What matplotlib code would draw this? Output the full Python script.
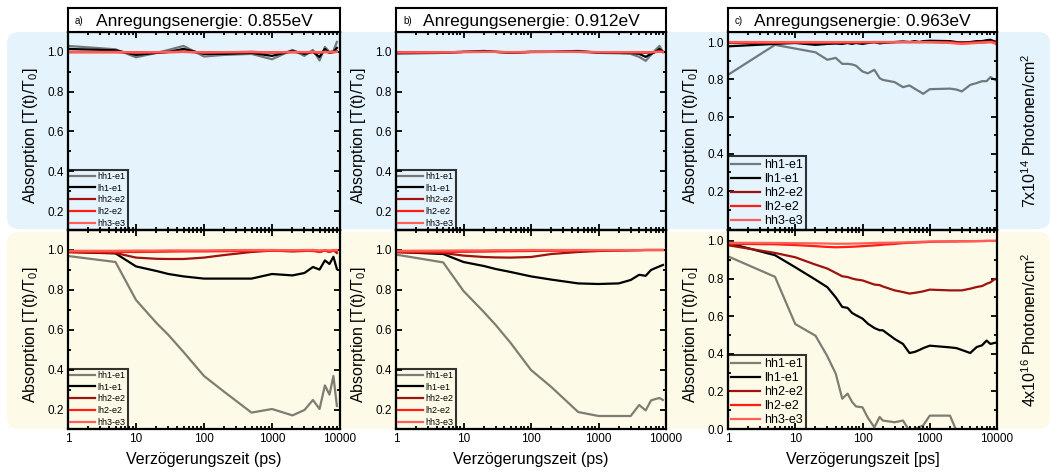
import numpy as np
import matplotlib.pyplot as plt
from matplotlib.patches import FancyBboxPatch
from matplotlib.transforms import IdentityTransform
from matplotlib.ticker import LogLocator, NullFormatter, MultipleLocator, FixedLocator

plt.rcParams['font.family'] = ['Liberation Sans', 'DejaVu Sans']
plt.rcParams['mathtext.default'] = 'regular'

W, H = 1051, 476

labels = ['hh1-e1', 'lh1-e1', 'hh2-e2', 'lh2-e2', 'hh3-e3']
titles = ['Anregungsenergie: 0.855eV', 'Anregungsenergie: 0.912eV', 'Anregungsenergie: 0.963eV']
letters = ['a)', 'b)', 'c)']
xlabels = ['Verzögerungszeit (ps)', 'Verzögerungszeit (ps)', 'Verzögerungszeit [ps]']
right_labels = ['7x10$^{14}$ Photonen/cm$^2$', '4x10$^{16}$ Photonen/cm$^2$']

# time grid (ps) for panels a and b
t_ab = [1, 5, 10, 20, 30, 50, 100, 200, 500, 1000, 2000, 3000, 4000, 5000, 6000, 7000, 8000, 9000]
# denser grid for panel c
t_c = [1, 5, 10, 20, 30, 40, 50, 60, 70, 80, 100, 120, 150, 180, 200, 300, 400, 500, 600,
       700, 800, 1000, 2000, 2500, 3000, 4000, 5000, 6000, 7000, 8000, 9000, 10000]

# ---- panel a, 7e14 ----
a_lo_hh1 = [1.03, 1.013, 0.973, 0.995, 1.01, 1.03, 0.977, 0.985, 0.99, 0.963, 1.01, 0.98, 1.01, 0.957, 1.025, 1.0, 1.005, 1.05]
a_lo_lh1 = [1.015, 1.008, 0.985, 0.995, 1.0, 1.015, 0.99, 0.99, 0.995, 0.98, 1.005, 0.99, 1.0, 0.975, 1.015, 0.995, 1.0, 1.02]
a_lo_hh2 = [1.0, 1.0, 0.997, 0.998, 1.0, 1.002, 0.997, 0.998, 1.0, 0.997, 1.0, 0.998, 1.0, 0.995, 1.002, 0.998, 1.0, 1.003]
a_lo_lh2 = [0.998, 0.998, 0.997, 0.998, 0.998, 1.0, 0.997, 0.998, 0.998, 0.997, 0.998, 0.998, 0.998, 0.996, 0.999, 0.998, 0.998, 1.0]
a_lo_hh3 = [1.0, 1.0, 0.998, 0.999, 1.0, 1.0, 0.998, 0.999, 1.0, 0.998, 1.0, 0.999, 1.0, 0.998, 1.0, 0.999, 1.0, 1.0]
# ---- panel a, 4e16 ----
a_hi_hh1 = [0.97, 0.94, 0.75, 0.635, 0.575, 0.49, 0.37, 0.29, 0.187, 0.205, 0.173, 0.20, 0.25, 0.205, 0.323, 0.277, 0.37, 0.22]
a_hi_lh1 = [0.99, 0.983, 0.918, 0.895, 0.88, 0.868, 0.857, 0.857, 0.857, 0.88, 0.873, 0.885, 0.915, 0.902, 0.948, 0.93, 0.966, 0.905]
a_hi_hh2 = [0.99, 0.985, 0.962, 0.956, 0.955, 0.955, 0.962, 0.975, 0.99, 0.997, 0.993, 0.995, 1.0, 0.99, 0.998, 0.99, 1.0, 0.985]
a_hi_lh2 = [0.99, 0.99, 0.99, 0.991, 0.992, 0.993, 0.993, 0.994, 0.995, 0.996, 0.995, 0.996, 0.995, 0.99, 0.998, 0.99, 0.997, 0.995]
a_hi_hh3 = [0.996, 0.996, 0.997, 0.997, 0.998, 0.998, 0.998, 0.999, 1.0, 1.0, 0.999, 1.0, 1.0, 0.998, 1.0, 0.998, 1.0, 1.0]

# ---- panel b, 7e14 ----
b_lo_hh1 = [0.99, 0.995, 1.0, 1.005, 1.0, 0.995, 1.0, 1.0, 1.005, 0.995, 0.993, 0.99, 0.975, 0.955, 0.985, 1.01, 1.03, 1.0]
b_lo_lh1 = [0.995, 0.997, 1.0, 1.003, 1.0, 0.997, 1.0, 1.0, 1.003, 0.997, 0.996, 0.995, 0.99, 0.975, 0.99, 1.0, 1.015, 1.0]
b_lo_hh2 = [0.996, 0.998, 1.0, 1.0, 1.0, 0.998, 1.0, 1.0, 1.0, 0.998, 0.998, 0.998, 0.997, 0.995, 0.997, 1.0, 1.005, 1.0]
b_lo_lh2 = [0.997, 0.998, 0.999, 1.0, 1.0, 0.998, 0.999, 1.0, 1.0, 0.999, 0.998, 0.998, 0.998, 0.997, 0.998, 1.0, 1.002, 1.0]
b_lo_hh3 = [0.998, 0.998, 1.0, 1.0, 1.0, 0.999, 1.0, 1.0, 1.0, 0.999, 0.999, 0.999, 0.999, 0.998, 0.999, 1.0, 1.0, 1.0]
# ---- panel b, 4e16 ----
b_hi_hh1 = [0.977, 0.938, 0.795, 0.69, 0.625, 0.535, 0.40, 0.315, 0.19, 0.17, 0.17, 0.17, 0.225, 0.198, 0.248, 0.255, 0.26, 0.25]
b_hi_lh1 = [0.99, 0.98, 0.94, 0.92, 0.905, 0.89, 0.868, 0.852, 0.833, 0.83, 0.833, 0.85, 0.876, 0.871, 0.90, 0.91, 0.918, 0.925]
b_hi_hh2 = [0.99, 0.985, 0.972, 0.965, 0.963, 0.962, 0.965, 0.98, 0.99, 0.995, 0.997, 0.998, 0.999, 1.0, 1.0, 1.0, 1.0, 1.0]
b_hi_lh2 = [0.99, 0.99, 0.991, 0.992, 0.993, 0.994, 0.995, 0.996, 0.997, 0.998, 0.998, 0.999, 0.999, 1.0, 1.0, 1.0, 1.0, 1.0]
b_hi_hh3 = [0.996, 0.997, 0.998, 0.998, 0.999, 0.999, 1.0, 1.0, 1.0, 1.0, 1.0, 1.0, 1.0, 1.0, 1.0, 1.0, 1.0, 1.0]

# ---- panel c, 7e14 ----
c_lo_hh1 = [0.824, 0.985, 0.965, 0.945, 0.905, 0.915, 0.883, 0.883, 0.88, 0.873, 0.842, 0.832, 0.851, 0.806, 0.797,
            0.785, 0.758, 0.767, 0.749, 0.735, 0.722, 0.747, 0.75, 0.745, 0.735, 0.77, 0.78, 0.79, 0.79, 0.812, 0.80, 0.792]
c_lo_lh1 = [0.977, 0.99, 0.995, 0.985, 0.99, 0.992, 0.99, 0.995, 0.99, 0.995, 0.99, 0.995, 1.0, 0.993, 0.995,
            1.0, 1.003, 1.0, 1.005, 1.0, 1.005, 1.007, 1.005, 1.0, 0.998, 1.0, 1.005, 1.005, 1.01, 1.012, 1.005, 1.0]
c_lo_hh2 = [0.995, 0.996, 0.997, 0.996, 0.997, 0.997, 0.998, 0.998, 0.998, 0.999, 0.999, 0.999, 1.0, 1.0, 1.0,
            1.0, 1.0, 1.0, 1.0, 1.0, 1.0, 1.0, 1.0, 0.998, 0.997, 0.998, 1.0, 1.0, 1.002, 1.003, 1.0, 0.998]
c_lo_lh2 = [0.997, 0.997, 0.998, 0.998, 0.998, 0.998, 0.998, 0.999, 0.999, 0.999, 0.999, 0.999, 0.999, 0.999, 0.999,
            0.999, 1.0, 1.0, 1.0, 1.0, 1.0, 1.0, 0.998, 0.995, 0.993, 0.995, 0.997, 0.998, 0.999, 1.0, 0.998, 0.995]
c_lo_hh3 = [1.0, 1.0, 1.0, 1.0, 1.0, 1.0, 1.0, 1.0, 1.0, 1.0, 1.0, 1.0, 1.0, 1.0, 1.0,
            1.0, 1.0, 1.0, 1.0, 1.0, 1.0, 1.0, 0.995, 0.992, 0.99, 0.993, 0.995, 0.997, 0.999, 1.0, 0.995, 0.985]
# ---- panel c, 4e16 ----
c_hi_hh1 = [0.918, 0.809, 0.558, 0.496, 0.387, 0.294, 0.161, 0.188, 0.144, 0.12, 0.115, 0.06, 0.009, 0.064, 0.045,
            0.036, 0.045, -0.01, 0.0, 0.01, 0.02, 0.071, 0.071, -0.01, -0.03, -0.03, -0.03, -0.03, -0.03, -0.02, 0.0, -0.01]
c_hi_lh1 = [0.989, 0.924, 0.86, 0.794, 0.754, 0.70, 0.649, 0.644, 0.617, 0.605, 0.587, 0.56, 0.537, 0.525, 0.525,
            0.479, 0.452, 0.404, 0.41, 0.42, 0.43, 0.443, 0.434, 0.43, 0.42, 0.404, 0.436, 0.445, 0.47, 0.452, 0.457, 0.46]
c_hi_hh2 = [0.977, 0.936, 0.913, 0.874, 0.853, 0.83, 0.812, 0.808, 0.80, 0.795, 0.79, 0.78, 0.768, 0.765, 0.758,
            0.737, 0.728, 0.72, 0.724, 0.728, 0.732, 0.741, 0.737, 0.737, 0.737, 0.746, 0.755, 0.76, 0.772, 0.78, 0.794, 0.80]
c_hi_lh2 = [0.985, 0.982, 0.978, 0.972, 0.968, 0.966, 0.967, 0.968, 0.969, 0.97, 0.972, 0.974, 0.976, 0.978, 0.98,
            0.984, 0.988, 0.99, 0.991, 0.992, 0.993, 0.995, 0.997, 0.997, 0.998, 0.998, 0.999, 0.999, 1.0, 1.0, 1.0, 1.0]
c_hi_hh3 = [0.99, 0.989, 0.988, 0.987, 0.986, 0.985, 0.985, 0.985, 0.986, 0.986, 0.987, 0.988, 0.989, 0.99, 0.99,
            0.991, 0.992, 0.993, 0.994, 0.995, 0.996, 0.997, 0.998, 0.998, 0.998, 0.999, 0.999, 1.0, 1.0, 1.0, 1.0, 1.0]

panels = [
    (t_ab, [a_lo_hh1, a_lo_lh1, a_lo_hh2, a_lo_lh2, a_lo_hh3], [a_hi_hh1, a_hi_lh1, a_hi_hh2, a_hi_lh2, a_hi_hh3]),
    (t_ab, [b_lo_hh1, b_lo_lh1, b_lo_hh2, b_lo_lh2, b_lo_hh3], [b_hi_hh1, b_hi_lh1, b_hi_hh2, b_hi_lh2, b_hi_hh3]),
    (t_c, [c_lo_hh1, c_lo_lh1, c_lo_hh2, c_lo_lh2, c_lo_hh3], [c_hi_hh1, c_hi_lh1, c_hi_hh2, c_hi_lh2, c_hi_hh3]),
]

line_colors = ['k', 'k', '#9e1210', '#ff1c12', '#ff5d58']
line_alpha = [0.5, 1, 1, 1, 1]

lefts = [68, 396, 728]
rights = [340, 666, 997]
ylab_x = [31, 358, 690]


def rect(l, r, top, bot):
    return [l / W, (H - bot) / H, (r - l) / W, (bot - top) / H]


fig = plt.figure(figsize=(W / 100, H / 100), dpi=100)

# coloured background bands (pixel coords)
for (y0, y1, col) in [(32, 229, '#e4f3fc'), (232, 429, '#fdfbe7')]:
    band = FancyBboxPatch((7, H - y1), 1043, y1 - y0, boxstyle='round,pad=0,rounding_size=12',
                          transform=IdentityTransform(), facecolor=col, edgecolor='none', zorder=-5)
    fig.patches.append(band)


def style_axes(ax, ylim, yticks, show_xlabels):
    ax.set_facecolor('none')
    ax.set_xscale('log')
    ax.set_xlim(1, 10000)
    ax.set_ylim(*ylim)
    ax.xaxis.set_major_locator(FixedLocator([1, 10, 100, 1000, 10000]))
    ax.xaxis.set_minor_locator(LogLocator(base=10, subs=np.arange(2, 10), numticks=20))
    ax.xaxis.set_minor_formatter(NullFormatter())
    ax.set_yticks(yticks)
    ax.yaxis.set_minor_locator(MultipleLocator(0.1))
    if show_xlabels:
        ax.set_xticklabels(['1', '10', '100', '1000', '10000'])
    else:
        ax.set_xticklabels([])
    ax.set_yticklabels(['%.1f' % v for v in yticks])
    ax.tick_params(which='both', direction='in', top=True, right=True, labelsize=8.5, width=1.3, pad=3)
    ax.tick_params(which='major', length=4.5)
    ax.tick_params(which='minor', length=2.5)
    for s in ax.spines.values():
        s.set_linewidth(1.6)


for i, (t, lo, hi) in enumerate(panels):
    l, r = lefts[i], rights[i]
    leg_fs = 9 if i == 2 else 6.5
    for j, (data, top, bot) in enumerate([(lo, 32, 230), (hi, 230, 429)]):
        ax = fig.add_axes(rect(l, r, top, bot))
        for k in range(5):
            ax.plot(t, data[k], color=line_colors[k], alpha=line_alpha[k], lw=1.6, label=labels[k])
        if i == 2:
            ylim = (-0.009, 1.054) if j == 0 else (0.0, 1.058)
            yt = [0.2, 0.4, 0.6, 0.8, 1.0] if j == 0 else [0.0, 0.2, 0.4, 0.6, 0.8, 1.0]
        else:
            ylim = (0.105, 1.1)
            yt = [0.2, 0.4, 0.6, 0.8, 1.0]
        style_axes(ax, ylim, yt, j == 1)
        leg = ax.legend(loc='lower left', fontsize=leg_fs, frameon=True, fancybox=False,
                        borderaxespad=0, borderpad=0.25, handlelength=2.7 if i < 2 else 2.3,
                        handletextpad=0.35, labelspacing=0.3 if i < 2 else 0.15)
        leg.get_frame().set_edgecolor('k')
        leg.get_frame().set_linewidth(1.5)
        leg.get_frame().set_facecolor('none')
        fig.text(ylab_x[i] / W, 1 - ((top + bot) / 2 + 5) / H, 'Absorption [T(t)/T$_0$]',
                 rotation=90, ha='center', va='center', fontsize=11.5)
        if j == 1:
            ax.set_xlabel(xlabels[i], fontsize=11.5, labelpad=5)

    # title box
    tax = fig.add_axes(rect(l, r, 8, 32))
    tax.set_xticks([])
    tax.set_yticks([])
    tax.set_facecolor('white')
    for s in tax.spines.values():
        s.set_linewidth(1.5)
    tax.text(0.5, 0.45, titles[i], ha='center', va='center', fontsize=12.5, transform=tax.transAxes)
    tax.text(7 / (r - l), 0.45, letters[i], ha='left', va='center', fontsize=7, transform=tax.transAxes)

for (y, txt) in [(131, right_labels[0]), (330, right_labels[1])]:
    fig.text(1030 / W, 1 - y / H, txt, rotation=90, ha='center', va='center', fontsize=11.5)

fig.savefig('out.png', dpi=100)
